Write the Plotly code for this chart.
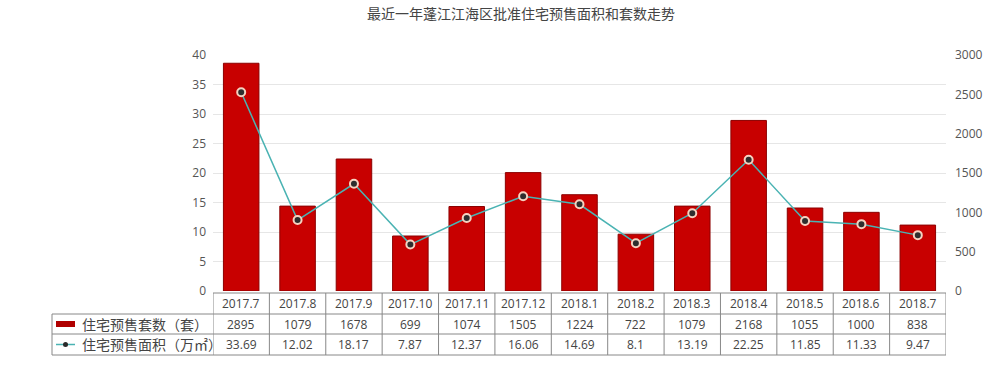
import plotly.graph_objects as go

months = ["2017.7", "2017.8", "2017.9", "2017.10", "2017.11", "2017.12", "2018.1",
          "2018.2", "2018.3", "2018.4", "2018.5", "2018.6", "2018.7"]
units = [2895, 1079, 1678, 699, 1074, 1505, 1224, 722, 1079, 2168, 1055, 1000, 838]
area = [33.69, 12.02, 18.17, 7.87, 12.37, 16.06, 14.69, 8.1, 13.19, 22.25, 11.85, 11.33, 9.47]
area_labels = ["33.69", "12.02", "18.17", "7.87", "12.37", "16.06", "14.69", "8.1",
               "13.19", "22.25", "11.85", "11.33", "9.47"]
bar_name = "住宅预售套数（套）"
line_name = "住宅预售面积（万㎡）"
title = "最近一年蓬江江海区批准住宅预售面积和套数走势"

FONT = "Open Sans, Noto Sans CJK SC, sans-serif"
TXT = "#444444"
GRID = "#888888"

n = len(months)
idx = list(range(n))

fig = go.Figure()
fig.add_trace(go.Bar(x=months, y=units, name=bar_name, yaxis="y",
                     marker=dict(color="#c80000", line=dict(color="#8c0000", width=1)),
                     showlegend=False))
fig.add_trace(go.Scatter(x=months, y=area, name=line_name, yaxis="y2", mode="lines+markers",
                         line=dict(color="#4ab3b3", width=1.5),
                         marker=dict(color="#2e2e2e", size=8,
                                     line=dict(color="#f6d2c0", width=2)),
                         showlegend=False))

# plot area: x 213..946 px, y 55..291 px
PH = 236.0
def py(ypx):
    return (291 - ypx) / PH

y_head_top, y_r1, y_r2, y_bot = py(293), py(314), py(334), py(355)
x_left = (52 - 213) / 733.0

shapes = []
line_style = dict(color=GRID, width=1)
shapes.append(dict(type="line", xref="paper", yref="paper", x0=0, x1=1,
                   y0=y_head_top, y1=y_head_top, line=line_style))
for yy in (y_r1, y_r2, y_bot):
    shapes.append(dict(type="line", xref="paper", yref="paper", x0=x_left, x1=1,
                       y0=yy, y1=yy, line=line_style))
for i in range(n + 1):
    shapes.append(dict(type="line", xref="x", yref="paper", x0=i - 0.5, x1=i - 0.5,
                       y0=y_head_top, y1=y_bot, line=line_style))
shapes.append(dict(type="line", xref="paper", yref="paper", x0=x_left, x1=x_left,
                   y0=y_r1, y1=y_bot, line=line_style))
# legend symbols
sx0, sx1 = (56 - 213) / 733.0, (75 - 213) / 733.0
shapes.append(dict(type="rect", xref="paper", yref="paper", x0=sx0, x1=sx1,
                   y0=py(327), y1=py(321), fillcolor="#b00000", line=dict(width=0)))
shapes.append(dict(type="line", xref="paper", yref="paper", x0=sx0, x1=sx1,
                   y0=py(344.5), y1=py(344.5), line=dict(color="#4ab3b3", width=1.5)))
shapes.append(dict(type="circle", xref="paper", yref="paper",
                   x0=(63 - 213) / 733.0, x1=(68 - 213) / 733.0,
                   y0=py(347), y1=py(342), fillcolor="#2a2a2a", line=dict(width=0)))

annotations = []
y_head_c, y_row1_c, y_row2_c = py(303.5), py(324), py(344.5)
for i in idx:
    for yv, txt in ((y_head_c, months[i]), (y_row1_c, str(units[i])), (y_row2_c, area_labels[i])):
        annotations.append(dict(x=i, y=yv, xref="x", yref="paper", text=txt,
                                xanchor="center", yanchor="middle",
                                showarrow=False, font=dict(size=12, color=TXT, family=FONT)))
for yv, txt in ((y_row1_c, bar_name), (y_row2_c, line_name)):
    annotations.append(dict(x=(80 - 213) / 733.0, y=yv, xref="paper", yref="paper",
                            text=txt, showarrow=False, xanchor="left", yanchor="middle",
                            font=dict(size=14, color=TXT, family=FONT)))

fig.update_layout(
    width=1000, height=389,
    margin=dict(l=213, r=54, t=55, b=98),
    paper_bgcolor="white", plot_bgcolor="white",
    title=dict(text=title, x=0.521, xanchor="center", y=0.963, yanchor="middle",
               font=dict(size=14, color=TXT, family=FONT)),
    bargap=0.37,
    xaxis=dict(type="category", range=[-0.5, n - 0.5], showticklabels=False,
               showgrid=False, zeroline=False, showline=False, ticks=""),
    yaxis=dict(side="right", range=[0, 3000], dtick=500, showgrid=False, zeroline=False,
               showline=False, tickfont=dict(size=12, color="#555555", family=FONT),
               ticklabelstandoff=8),
    yaxis2=dict(side="left", overlaying="y", range=[0, 40], dtick=5, showgrid=True,
                gridcolor="#e6e6e6", zeroline=False, showline=False,
                tickfont=dict(size=12, color="#555555", family=FONT),
                ticklabelstandoff=6),
    shapes=shapes, annotations=annotations,
)
fig.write_html("out.html", config={"displayModeBar": False},
               post_script="document.body.style.margin='0';")
